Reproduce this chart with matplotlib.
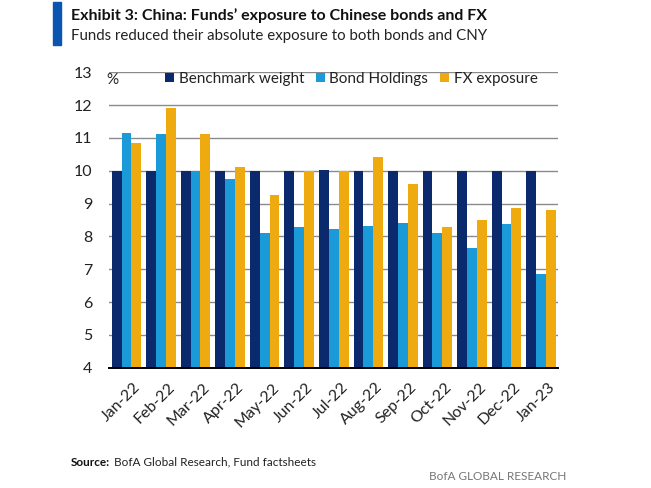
import matplotlib
matplotlib.use("Agg")
import matplotlib.pyplot as plt
from matplotlib.patches import Patch, Rectangle
import matplotlib.transforms as mtransforms
import numpy as np

months = ["Jan-22", "Feb-22", "Mar-22", "Apr-22", "May-22", "Jun-22", "Jul-22",
          "Aug-22", "Sep-22", "Oct-22", "Nov-22", "Dec-22", "Jan-23"]
benchmark = [10.0, 10.0, 10.0, 10.0, 10.0, 10.0, 10.03, 10.0, 10.0, 10.0, 10.0, 10.0, 10.0]
bond_holdings = [11.15, 11.11, 10.0, 9.74, 8.10, 8.28, 8.23, 8.33, 8.41, 8.10, 7.64, 8.37, 6.86]
fx_exposure = [10.84, 11.90, 11.11, 10.11, 9.25, 10.0, 10.0, 10.43, 9.60, 8.28, 8.50, 8.87, 8.79]
series_names = ["Benchmark weight", "Bond Holdings", "FX exposure"]
yticks = [4, 5, 6, 7, 8, 9, 10, 11, 12, 13]

NAVY = "#0b2a6e"
BLUE = "#1a9ad9"
GOLD = "#eeaa0e"
FONT = "Lato"

plt.rcParams["font.family"] = [FONT, "DejaVu Sans"]

W, H = 651, 488
fig = plt.figure(figsize=(W / 100, H / 100), dpi=100)
ax = fig.add_axes([109 / W, 1 - 367.7 / H, (558 - 109) / W, (367.7 - 72.3) / H])

x = np.arange(len(months))
bw = 0.285
ax.bar(x - bw, benchmark, bw, color=NAVY, zorder=3)
ax.bar(x, bond_holdings, bw, color=BLUE, zorder=3)
ax.bar(x + bw, fx_exposure, bw, color=GOLD, zorder=3)

ax.set_ylim(4, 13)
ax.set_xlim(-0.505, 12.49)
ax.set_yticks(yticks)
ax.set_yticklabels([str(v) for v in yticks], fontsize=11.5, color="#222222")
ax.tick_params(axis="y", length=0, pad=12)
ax.grid(axis="y", color="#8a8a8a", linewidth=1.0, zorder=0)
ax.set_axisbelow(True)
for s in ["top", "right", "left"]:
    ax.spines[s].set_visible(False)
ax.spines["bottom"].set_color("black")
ax.spines["bottom"].set_linewidth(1.4)
ax.spines["bottom"].set_zorder(5)

ax.set_xticks(x)
ax.set_xticklabels(months, rotation=45, ha="right", va="top",
                   rotation_mode="anchor", fontsize=11.5, color="#222222")
ax.tick_params(axis="x", length=0, pad=9)
offset = mtransforms.ScaledTranslation(7 / 100, 0, fig.dpi_scale_trans)
for lab in ax.get_xticklabels():
    lab.set_transform(lab.get_transform() + offset)

# legend
handles = [Patch(facecolor=c, edgecolor="none") for c in (NAVY, BLUE, GOLD)]
leg = fig.legend(handles, series_names, ncol=3, loc="center left",
                 bbox_to_anchor=(165 / W, 1 - 79 / H), frameon=False,
                 fontsize=11, handlelength=0.6, handleheight=0.6,
                 handletextpad=0.3, columnspacing=0.75, borderpad=0,
                 borderaxespad=0)
for t in leg.get_texts():
    t.set_color("#222222")
fig.text(106 / W, 1 - 80 / H, "%", fontsize=11, color="#222222",
         ha="left", va="center")

# title block
fig.patches.append(Rectangle((53 / W, 1 - 45 / H), 8 / W, 43 / H,
                             transform=fig.transFigure, color="#0a55b0"))
fig.text(71 / W, 1 - 16 / H, "Exhibit 3: China: Funds\u2019 exposure to Chinese bonds and FX",
         fontsize=11.5, fontweight="bold", color="#111111", ha="left", va="center")
fig.text(71 / W, 1 - 36 / H, "Funds reduced their absolute exposure to both bonds and CNY",
         fontsize=10.8, color="#222222", ha="left", va="center")

# footer
fig.text(71 / W, 1 - 462 / H, "Source:", fontsize=8.5, fontweight="bold",
         color="#111111", ha="left", va="center")
fig.text(114 / W, 1 - 462 / H, "BofA Global Research, Fund factsheets", fontsize=8.5,
         color="#222222", ha="left", va="center")
fig.text(566 / W, 1 - 477 / H, "BofA GLOBAL RESEARCH", fontsize=8.5,
         color="#777777", ha="right", va="center")

fig.savefig("out.png", dpi=100)
